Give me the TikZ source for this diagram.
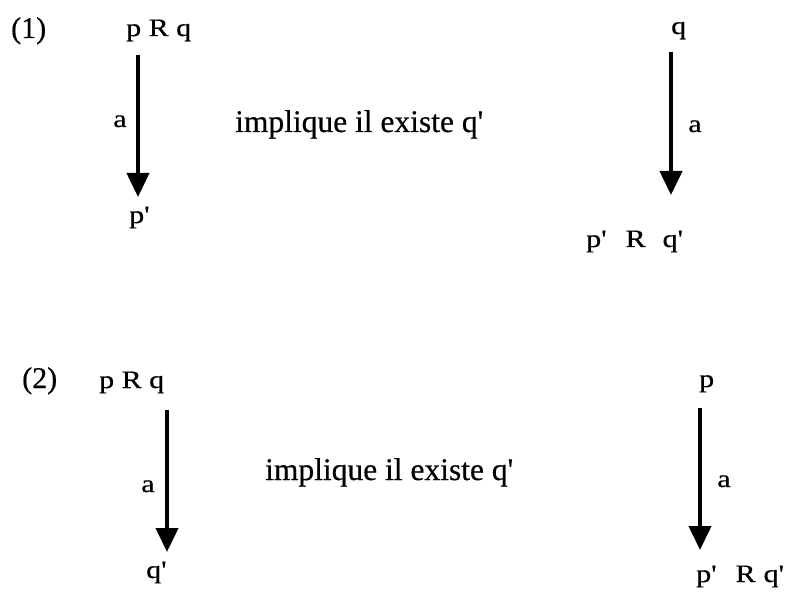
\documentclass[tikz,border=0pt]{standalone}
\usepackage{fontspec}
\setmainfont{Liberation Serif}
\newfontfamily\widefont[FakeStretch=1.2,FakeBold=0.6]{Liberation Serif}
\newfontfamily\plainfont[FakeBold=0.5]{Liberation Serif}
\usetikzlibrary{arrows.meta}
\tikzset{
  lab/.style={inner sep=0pt, font=\widefont\fontsize{25}{25}\selectfont},
  txt/.style={inner sep=0pt, font=\plainfont\fontsize{31.5}{31.5}\selectfont},
  num/.style={inner sep=0pt, font=\plainfont\fontsize{30}{30}\selectfont},
  trans/.style={line width=4pt, -{Triangle[length=24pt,width=22pt]}}
}
\begin{document}
\begin{tikzpicture}[x=1pt,y=-1pt]
\useasboundingbox (0,0) rectangle (792,593);
% ---------- (1) ----------
\node[num, anchor=base west] (n1) at (11,38) {(1)};
\node[lab, anchor=base west] (pRq1) at (126,36) {p R q};
\node[lab, anchor=base west] (pp1) at (129,223) {p'};
\coordinate (s1) at (138,55);
\coordinate (e1) at (138,197);
\draw[trans] (s1) -- (e1);
\node[lab, anchor=base] (a1) at (120,127) {a};
\node[txt, anchor=base west] (imp1) at (235,132) {implique il existe q'};
\node[lab, anchor=base west] (q1) at (671,34) {q};
\coordinate (s2) at (671,52);
\coordinate (e2) at (671,195);
\draw[trans] (s2) -- (e2);
\node[lab, anchor=base] (a2) at (695,132) {a};
\node[lab, anchor=base west] (res1) at (586,247) {p'\hspace{19pt}R\hspace{17pt}q'};
% ---------- (2) ----------
\node[num, anchor=base west] (n2) at (22,388) {(2)};
\node[lab, anchor=base west] (pRq2) at (99,388) {p R q};
\node[lab, anchor=base west] (qq2) at (146,578) {q'};
\coordinate (s3) at (167,410);
\coordinate (e3) at (167,552);
\draw[trans] (s3) -- (e3);
\node[lab, anchor=base] (a3) at (148,492) {a};
\node[txt, anchor=base west] (imp2) at (265,480) {implique il existe q'};
\node[lab, anchor=base west] (p2) at (699,387) {p};
\coordinate (s4) at (700,408);
\coordinate (e4) at (700,550);
\draw[trans] (s4) -- (e4);
\node[lab, anchor=base] (a4) at (724,487) {a};
\node[lab, anchor=base west] (res2) at (696,582) {p'\hspace{19pt}R\hspace{8pt}q'};
\end{tikzpicture}
\end{document}
